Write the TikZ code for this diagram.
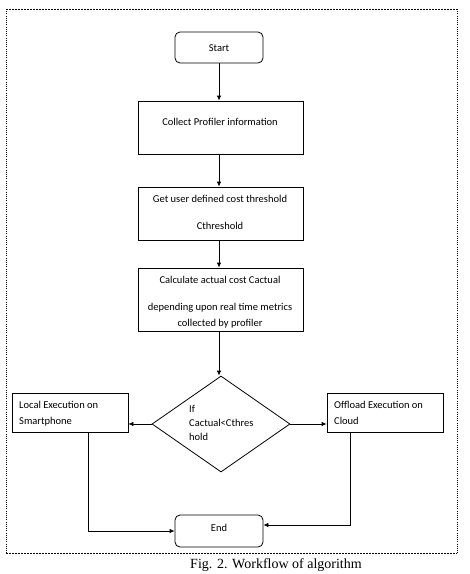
\documentclass[tikz,border=0pt]{standalone}
\usepackage{fontspec}
\setmainfont{Carlito}
\newfontfamily\capfont{Liberation Serif}
\usetikzlibrary{arrows.meta,shapes.geometric}
\begin{document}
\begin{tikzpicture}[x=1pt,y=-1pt,
  every node/.style={font=\fontsize{10.5}{12}\selectfont},
  box/.style={draw,line width=0.8pt,inner sep=0pt},
  term/.style={draw,line width=0.8pt,rounded corners=5pt,inner sep=0pt},
  conn/.style={line width=0.8pt,-{Latex[length=5pt,width=4.5pt]}},
  lbl/.style={inner sep=0pt,anchor=base}]
\useasboundingbox (0,0) rectangle (470,574);
% frame
\coordinate (f1) at (6,9); \coordinate (f2) at (457,9);
\coordinate (f3) at (457,553); \coordinate (f4) at (6,553);
\draw[line width=0.7pt,dash pattern=on 2pt off 1pt] (f1) -- (f2);
\draw[line width=0.7pt,dash pattern=on 2pt off 1pt] (f4) -- (f3);
\draw[line width=1pt,dash pattern=on 1pt off 1.2pt] (f1) -- (f4);
\draw[line width=1pt,dash pattern=on 1pt off 1.2pt] (f2) -- (f3);
% nodes
\node[term,minimum width=88pt,minimum height=31pt] (start) at (219,47.5) {};
\node[lbl] at (219,51) {Start};
\node[box,minimum width=165pt,minimum height=53pt] (collect) at (220.5,127.5) {};
\node[lbl] at (220,125.5) {Collect Profiler information};
\node[box,minimum width=165pt,minimum height=53pt] (user) at (220.5,213.5) {};
\node[lbl] at (220,202.5) {Get user defined cost threshold};
\node[lbl] at (220,229.5) {Cthreshold};
\node[box,minimum width=165pt,minimum height=63pt] (calc) at (220.5,299.5) {};
\node[lbl] at (220,283.5) {Calculate actual cost Cactual};
\node[lbl] at (220,310.5) {depending upon real time metrics};
\node[lbl] at (220,326.5) {collected by profiler};
\node[draw,line width=0.8pt,diamond,aspect=1.44,minimum width=138pt,minimum height=96pt,inner sep=0pt] (dec) at (221,424) {};
\node[lbl,anchor=base west] at (189,412) {If};
\node[lbl,anchor=base west] at (189,426) {Cactual<Cthres};
\node[lbl,anchor=base west] at (189,440) {hold};
\node[box,minimum width=116pt,minimum height=39pt] (local) at (70,412.5) {};
\node[lbl,anchor=base west] at (19,408) {Local Execution on};
\node[lbl,anchor=base west] at (19,424) {Smartphone};
\node[box,minimum width=116pt,minimum height=39pt] (off) at (385,412.5) {};
\node[lbl,anchor=base west] at (334,408) {Offload Execution on};
\node[lbl,anchor=base west] at (334,424) {Cloud};
\node[term,minimum width=88pt,minimum height=32pt] (end) at (219,531) {};
\node[lbl] at (219,531) {End};
% connectors
\draw[conn] (start.south) -- (collect.north -| start.south);
\draw[conn] (collect.south -| start.south) -- (user.north -| start.south);
\draw[conn] (user.south -| start.south) -- (calc.north -| start.south);
\draw[conn] (calc.south -| start.south) -- (dec.north -| start.south);
\draw[conn] (dec.west) -- (local.east |- dec.west);
\draw[conn] (dec.east) -- (off.west |- dec.east);
\coordinate (lc) at (88,531);
\coordinate (oc) at (350,525);
\draw[conn] (local.south -| lc) -- (lc) -- (end.west |- lc);
\draw[conn] (off.south -| oc) -- (oc) -- (end.east |- oc);
% caption
\node[lbl,font=\capfont\fontsize{14}{16}\selectfont] at (276,568) {Fig. 2. Workflow of algorithm};
\end{tikzpicture}
\end{document}
